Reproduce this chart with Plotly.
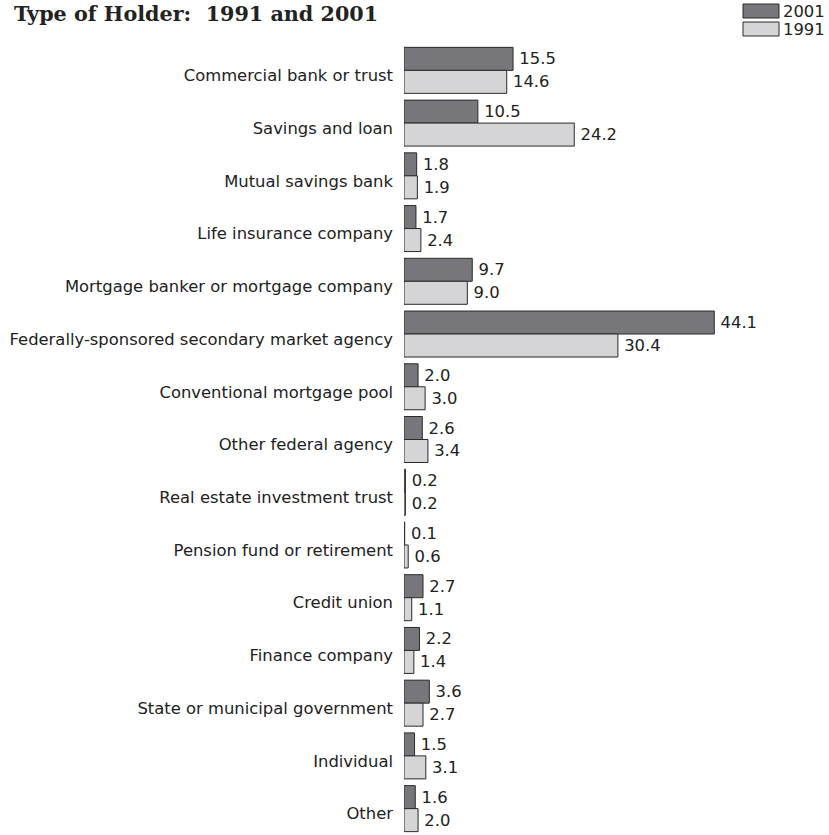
import plotly.graph_objects as go

categories = [
    "Commercial bank or trust",
    "Savings and loan",
    "Mutual savings bank",
    "Life insurance company",
    "Mortgage banker or mortgage company",
    "Federally-sponsored secondary market agency",
    "Conventional mortgage pool",
    "Other federal agency",
    "Real estate investment trust",
    "Pension fund or retirement",
    "Credit union",
    "Finance company",
    "State or municipal government",
    "Individual",
    "Other",
]
values_2001 = [15.5, 10.5, 1.8, 1.7, 9.7, 44.1, 2.0, 2.6, 0.2, 0.1, 2.7, 2.2, 3.6, 1.5, 1.6]
values_1991 = [14.6, 24.2, 1.9, 2.4, 9.0, 30.4, 3.0, 3.4, 0.2, 0.6, 1.1, 1.4, 2.7, 3.1, 2.0]
series_names = ["2001", "1991"]

col_2001 = "#77777b"
col_1991 = "#d5d5d7"
edge = "#2a2a2a"
txt = "#222222"
sans = "DejaVu Sans"
fs = 16.4

fig = go.Figure()
for name, vals, col in [(series_names[0], values_2001, col_2001), (series_names[1], values_1991, col_1991)]:
    fig.add_trace(go.Bar(
        name=name, y=categories, x=vals, orientation="h",
        marker=dict(color=col, line=dict(color=edge, width=1)),
        text=["\u2009" + f"{v:.1f}" for v in vals], textposition="outside",
        textfont=dict(family=sans, size=fs, color=txt),
        cliponaxis=False, showlegend=False,
    ))

fig.update_layout(
    width=829, height=835,
    margin=dict(l=404, r=31, t=44, b=0),
    paper_bgcolor="white", plot_bgcolor="white",
    barmode="group", bargap=0.128, bargroupgap=0,
    font=dict(family=sans, size=fs, color=txt),
    xaxis=dict(range=[0, 56], visible=False, showgrid=False, zeroline=False),
    yaxis=dict(autorange="reversed", showgrid=False, zeroline=False, showline=False,
               ticks="", ticklabelstandoff=10, ticklabelshift=-5,
               tickfont=dict(family=sans, size=fs, color=txt)),
)

fig.add_annotation(
    text="<b>Type of Holder:  1991 and 2001</b>", xref="paper", yref="paper",
    x=-404/394, xshift=12, y=1, yshift=44, xanchor="left", yanchor="top",
    showarrow=False, font=dict(family="DejaVu Serif", size=20.7, color="#222"),
)

# legend drawn as shapes + text
leg_items = [(series_names[0], col_2001, 4), (series_names[1], col_1991, 22)]
for name, col, ytop in leg_items:
    fig.add_shape(type="rect", xref="paper", yref="paper",
                  x0=(743 - 404) / 394, x1=(779 - 404) / 394,
                  y0=1 + (44 - ytop) / 791, y1=1 + (44 - ytop - 14) / 791,
                  fillcolor=col, line=dict(color=edge, width=1))
    fig.add_annotation(text=name, xref="paper", yref="paper",
                       x=(781 - 404) / 394, y=1 + (44 - ytop - 7) / 791,
                       xanchor="left", yanchor="middle", showarrow=False,
                       font=dict(family=sans, size=fs, color=txt))

fig.write_html("out.html")
